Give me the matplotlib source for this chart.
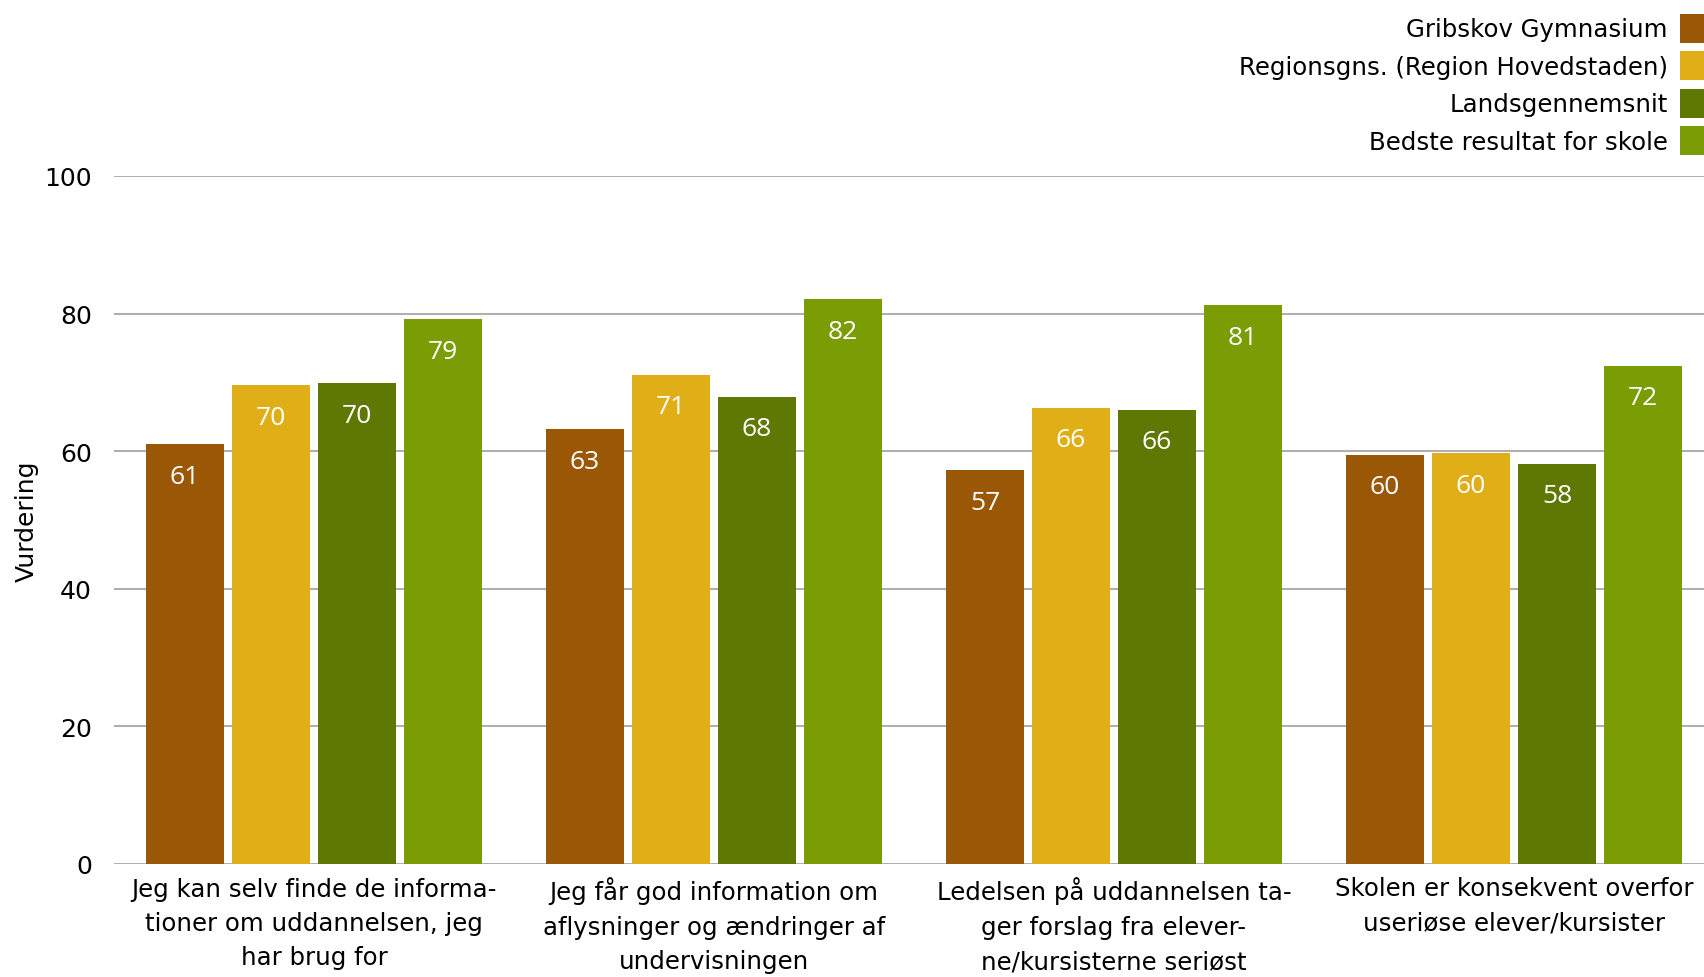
import numpy as np
from matplotlib import pyplot as plt
from matplotlib.patches import Patch

CATEGORIES = [
    "Jeg kan selv finde de informa-\ntioner om uddannelsen, jeg\nhar brug for",
    "Jeg får god information om\naflysninger og ændringer af\nundervisningen",
    "Ledelsen på uddannelsen ta-\nger forslag fra elever-\nne/kursisterne seriøst",
    "Skolen er konsekvent overfor\nuseriøse elever/kursister",
]

SERIES_NAMES = [
    "Gribskov Gymnasium",
    "Regionsgns. (Region Hovedstaden)",
    "Landsgennemsnit",
    "Bedste resultat for skole",
]

GRIBSKOV = [61.0, 63.2, 57.2, 59.5]
REGION = [69.6, 71.1, 66.3, 59.7]
LANDS = [69.9, 67.9, 66.0, 58.2]
BEDSTE = [79.2, 82.1, 81.2, 72.4]

COLORS = ["#9A5706", "#E0AE17", "#5F7803", "#7A9C04"]

Y_TICKS = [0, 20, 40, 60, 80, 100]

BAR_STEP = 0.215
BAR_WIDTH = 0.197
FONT = "DejaVu Sans"


def main() -> None:
    plt.rcParams["font.family"] = FONT
    fig = plt.figure(figsize=(17.04, 9.78), dpi=100)
    ax = fig.add_axes([114 / 1704, 1 - 865 / 978, 1 - 114 / 1704, (865 - 177) / 978])

    x = np.arange(len(CATEGORIES))
    series = [GRIBSKOV, REGION, LANDS, BEDSTE]
    for i, (values, color, name) in enumerate(zip(series, COLORS, SERIES_NAMES)):
        offset = (i - 1.5) * BAR_STEP
        bars = ax.bar(x + offset, values, width=BAR_WIDTH, color=color, label=name, zorder=3)
        for bar, v in zip(bars, values):
            ax.annotate(
                f"{v:.0f}",
                (bar.get_x() + bar.get_width() / 2, v),
                xytext=(0, -32),
                textcoords="offset pixels",
                ha="center",
                va="center",
                color="white",
                fontsize=19,
                family="Open Sans",
                zorder=4,
            )

    ax.set_xlim(-0.5, (1704 - 114) / 400 - 0.5)
    ax.set_ylim(0, 100)
    ax.set_yticks(Y_TICKS)
    ax.set_yticklabels([str(t) for t in Y_TICKS], fontsize=18)
    ax.set_xticks(x)
    ax.set_xticklabels(CATEGORIES, fontsize=17.6, linespacing=1.55)
    ax.tick_params(axis="both", length=0)
    ax.tick_params(axis="y", pad=16)
    ax.tick_params(axis="x", pad=9)
    for spine in ax.spines.values():
        spine.set_visible(False)
    ax.yaxis.grid(True, color="#A0A0A0", linewidth=1.2, zorder=0)
    ax.set_axisbelow(True)
    ax.set_ylabel("Vurdering", fontsize=18, labelpad=4)

    handles = [Patch(facecolor=c) for c in COLORS]
    fig.legend(
        handles,
        SERIES_NAMES,
        loc="upper right",
        bbox_to_anchor=(1.0, 0.985),
        frameon=False,
        markerfirst=False,
        fontsize=17.6,
        handlelength=0.98,
        handleheight=1.45,
        handletextpad=0.5,
        labelspacing=0.35,
        borderaxespad=0,
        borderpad=0,
    )

    fig.savefig("out.png", dpi=100)
    plt.close(fig)


if __name__ == "__main__":
    main()
